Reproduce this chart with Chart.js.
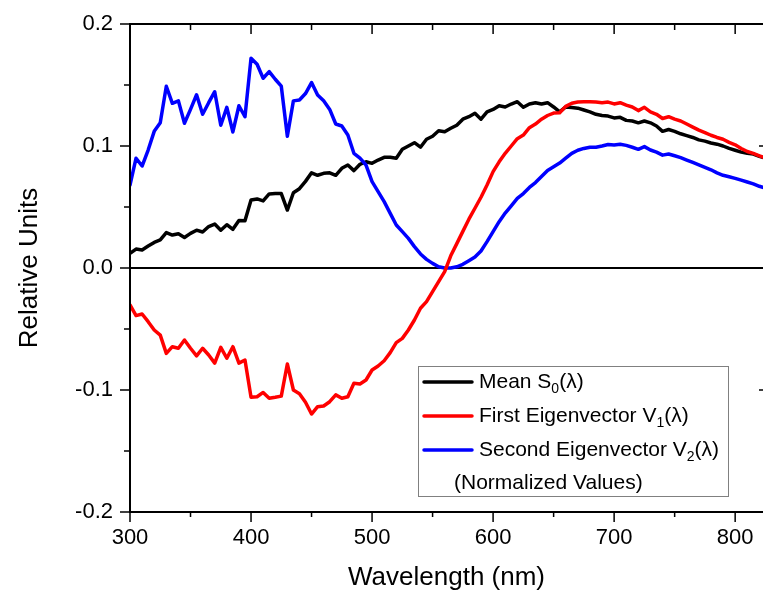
<!DOCTYPE html>
<html><head><meta charset="utf-8">
<script src="https://cdn.jsdelivr.net/npm/chart.js@4"></script>
<style>html,body{margin:0;padding:0;background:#fff;}#wrap{width:763px;height:599px;}</style>
</head><body><div id="wrap"><canvas id="c" width="763" height="599"></canvas></div>
<script>
const wavelengths = [300,305,310,315,320,325,330,335,340,345,350,355,360,365,370,375,380,385,390,395,400,405,410,415,420,425,430,435,440,445,450,455,460,465,470,475,480,485,490,495,500,505,510,515,520,525,530,535,540,545,550,555,560,565,570,575,580,585,590,595,600,605,610,615,620,625,630,635,640,645,650,655,660,665,670,675,680,685,690,695,700,705,710,715,720,725,730,735,740,745,750,755,760,765,770,775,780,785,790,795,800,805,810,815,820,825];
const meanS0 = [0.012,0.0155,0.0148,0.018,0.021,0.023,0.029,0.027,0.028,0.025,
0.0284,0.031,0.0295,0.034,0.036,0.031,0.0355,0.0317,0.039,0.0388,
0.0557,0.0566,0.055,0.0607,0.061,0.061,0.0475,0.0617,0.065,0.071,
0.078,0.076,0.0776,0.078,0.076,0.0817,0.0844,0.0798,0.085,0.0871,
0.0858,0.0885,0.0907,0.0907,0.090,0.0973,0.100,0.1027,0.099,0.1055,
0.108,0.1125,0.1117,0.1145,0.117,0.122,0.124,0.1268,0.122,0.128,
0.130,0.133,0.132,0.1344,0.1363,0.1317,0.1344,0.1355,0.1344,0.1355,
0.132,0.128,0.132,0.1315,0.131,0.1295,0.128,0.126,0.125,0.1245,
0.123,0.1235,0.121,0.1205,0.119,0.1205,0.119,0.1164,0.112,0.1135,
0.112,0.110,0.1085,0.107,0.105,0.104,0.1025,0.1015,0.100,0.098,
0.0965,0.095,0.094,0.0934,0.0915,0.090];
const eigenV1 = [-0.0303,-0.039,-0.0377,-0.044,-0.0508,-0.055,-0.070,-0.0645,-0.0658,-0.059,
-0.0658,-0.072,-0.0658,-0.0713,-0.078,-0.065,-0.074,-0.0645,-0.078,-0.0754,
-0.106,-0.1055,-0.102,-0.1068,-0.106,-0.105,-0.0787,-0.100,-0.103,-0.110,
-0.1197,-0.1137,-0.1131,-0.1096,-0.104,-0.1068,-0.1055,-0.0945,-0.0951,-0.0918,
-0.0836,-0.0803,-0.076,-0.0694,-0.0612,-0.0577,-0.0508,-0.0426,-0.033,-0.0276,
-0.0194,-0.0112,-0.003,0.010,0.020,0.030,0.040,0.049,0.058,0.068,
0.079,0.087,0.094,0.100,0.106,0.109,0.115,0.118,0.122,0.125,
0.127,0.1273,0.1325,0.135,0.136,0.1363,0.1363,0.136,0.1355,0.136,
0.1345,0.1355,0.1335,0.132,0.129,0.1317,0.128,0.126,0.1225,0.124,
0.122,0.1205,0.118,0.1155,0.113,0.111,0.1088,0.107,0.1055,0.103,
0.101,0.098,0.0955,0.094,0.092,0.090];
const eigenV2 = [0.068,0.090,0.0836,0.0967,0.112,0.119,0.149,0.135,0.137,0.1186,
0.130,0.142,0.126,0.1355,0.1445,0.117,0.1317,0.1115,0.133,0.124,
0.172,0.167,0.1555,0.161,0.1547,0.149,0.108,0.137,0.1377,0.143,
0.152,0.1418,0.137,0.130,0.118,0.1164,0.109,0.094,0.090,0.0844,
0.0708,0.0626,0.0544,0.0448,0.0352,0.0298,0.0243,0.0175,0.0115,0.0071,
0.0038,0.001,0.0,0.0,0.001,0.003,0.006,0.009,0.014,0.0216,
0.0298,0.038,0.045,0.051,0.057,0.061,0.066,0.070,0.075,0.080,
0.083,0.086,0.090,0.094,0.0965,0.098,0.099,0.099,0.100,0.1012,
0.1008,0.1015,0.1005,0.099,0.0973,0.0995,0.0967,0.095,0.0925,0.0934,
0.092,0.0905,0.0885,0.0865,0.0845,0.0825,0.0805,0.078,0.076,0.0748,
0.0735,0.072,0.0705,0.069,0.067,0.0655];
const xTickValues = [300,400,500,600,700,800];
const xMinorValues = [350,450,550,650,750];
const yTickValues = [-0.2,-0.1,0,0.1,0.2];
const yMinorValues = [-0.15,-0.05,0.05,0.15];
const seriesNames = ['Mean S0(λ)','First Eigenvector V1(λ)','Second Eigenvector V2(λ)'];
const legendMain = ['Mean S','First Eigenvector V','Second Eigenvector V'];
const legendSub = ['0','1','2'];
const legendTail = '(λ)';
const legendNote = '(Normalized Values)';
const seriesColors = ['#000000','#ff0000','#0000ff'];
const xTitle = 'Wavelength (nm)';
const yTitle = 'Relative Units';

const FONT = '"Liberation Sans", Arial, sans-serif';

function pts(arr){ return wavelengths.map((w,i)=>({x:w,y:arr[i]})); }

const framePlugin = {
  id:'frame',
  beforeDatasetsDraw(chart){
    const {ctx, chartArea:a, scales:{y}} = chart;
    ctx.save();
    ctx.strokeStyle='#000'; ctx.lineWidth=2;
    const y0 = y.getPixelForValue(0);
    ctx.beginPath(); ctx.moveTo(a.left,y0); ctx.lineTo(a.right,y0); ctx.stroke();
    ctx.restore();
  },
  afterDatasetsDraw(chart){
    const {ctx, chartArea:a, scales:{x,y}} = chart;
    ctx.save();
    ctx.strokeStyle='#000'; ctx.lineWidth=2; ctx.lineCap='butt';
    ctx.beginPath();
    ctx.moveTo(a.left, a.top); ctx.lineTo(a.right, a.top);
    ctx.moveTo(a.left, a.bottom); ctx.lineTo(a.right, a.bottom);
    ctx.moveTo(a.left, a.top-1); ctx.lineTo(a.left, a.bottom+1);
    ctx.stroke();
    ctx.lineWidth=1.5;
    ctx.beginPath();
    xTickValues.forEach(v=>{const p=x.getPixelForValue(v);
      ctx.moveTo(p,a.bottom); ctx.lineTo(p,a.bottom+10);
      ctx.moveTo(p,a.top); ctx.lineTo(p,a.top+10);});
    xMinorValues.forEach(v=>{const p=x.getPixelForValue(v);
      ctx.moveTo(p,a.bottom); ctx.lineTo(p,a.bottom+5);
      ctx.moveTo(p,a.top); ctx.lineTo(p,a.top+6);});
    yTickValues.forEach(v=>{const p=y.getPixelForValue(v);
      ctx.moveTo(a.left-10,p); ctx.lineTo(a.left,p);
      ctx.moveTo(a.right-4,p); ctx.lineTo(a.right,p);});
    yMinorValues.forEach(v=>{const p=y.getPixelForValue(v);
      ctx.moveTo(a.left-6,p); ctx.lineTo(a.left,p);});
    ctx.stroke();

    // legend box
    const bx=418.5, by=366.5, bw=310, bh=130;
    ctx.fillStyle='#fff'; ctx.fillRect(bx,by,bw,bh);
    ctx.strokeStyle='#808080'; ctx.lineWidth=1; ctx.strokeRect(bx,by,bw,bh);
    const rows=[382,416,450];
    ctx.textBaseline='middle'; ctx.textAlign='left';
    seriesNames.forEach((n,i)=>{
      ctx.strokeStyle=seriesColors[i]; ctx.lineWidth=3.5; ctx.lineCap='round';
      ctx.beginPath(); ctx.moveTo(424,rows[i]); ctx.lineTo(472,rows[i]); ctx.stroke();
      ctx.fillStyle='#000';
      ctx.font='21px '+FONT;
      let tx=479;
      ctx.fillText(legendMain[i],tx,rows[i]); tx+=ctx.measureText(legendMain[i]).width;
      ctx.font='14px '+FONT;
      ctx.fillText(legendSub[i],tx,rows[i]+7); tx+=ctx.measureText(legendSub[i]).width;
      ctx.font='21px '+FONT;
      ctx.fillText(legendTail,tx,rows[i]);
    });
    ctx.font='21px '+FONT; ctx.fillStyle='#000';
    ctx.fillText(legendNote,454,483);
    ctx.restore();
  }
};

new Chart(document.getElementById('c'),{
  type:'line',
  data:{datasets:[
    {label:seriesNames[0],data:pts(meanS0),borderColor:seriesColors[0],order:2},
    {label:seriesNames[1],data:pts(eigenV1),borderColor:seriesColors[1],order:0},
    {label:seriesNames[2],data:pts(eigenV2),borderColor:seriesColors[2],order:1}
  ]},
  options:{
    responsive:false, devicePixelRatio:1, animation:false,
    layout:{padding:{top:24,right:0,left:0,bottom:0}},
    elements:{line:{borderWidth:3.5,tension:0,borderJoinStyle:'round',borderCapStyle:'round'},point:{radius:0}},
    plugins:{legend:{display:false},tooltip:{enabled:false}},
    scales:{
      x:{type:'linear',min:300,max:823,
        afterBuildTicks:s=>{s.ticks=xTickValues.map(v=>({value:v}));},
        afterFit:s=>{s.height=87; s.paddingRight=0; s.paddingLeft=0;},
        grid:{display:false,drawTicks:false},border:{display:false},
        ticks:{color:'#000',font:{family:FONT,size:22},padding:13,maxRotation:0,autoSkip:false},
        title:{display:true,text:xTitle,color:'#000',font:{family:FONT,size:26},padding:{top:0,bottom:6}}
      },
      y:{type:'linear',min:-0.2,max:0.2,
        afterBuildTicks:s=>{s.ticks=yTickValues.map(v=>({value:v}));},
        afterFit:s=>{s.width=130; s.paddingTop=0; s.paddingBottom=0;},
        grid:{display:false,drawTicks:false},border:{display:false},
        ticks:{color:'#000',font:{family:FONT,size:22},padding:17,callback:v=>Number(v).toFixed(1)},
        title:{display:true,text:yTitle,color:'#000',font:{family:FONT,size:26},padding:{top:14,bottom:0}}
      }
    }
  },
  plugins:[framePlugin]
});
</script></body></html>
